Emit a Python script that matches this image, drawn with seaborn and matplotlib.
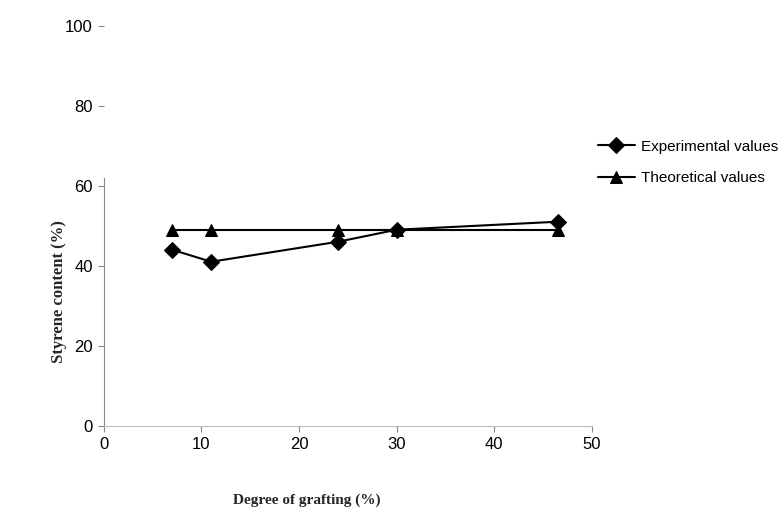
import pandas as pd
import seaborn as sns
import matplotlib.pyplot as plt

# data
grafting = [7, 11, 24, 30, 46.5]
experimental = [44, 41, 46, 49, 51]
theoretical = [49, 49, 49, 49, 49]

df = pd.DataFrame({
    'grafting': grafting * 2,
    'styrene': experimental + theoretical,
    'series': ['Experimental values'] * 5 + ['Theoretical values'] * 5,
})

sns.set_style('white')
plt.rcParams['font.family'] = ['Liberation Sans', 'DejaVu Sans']
plt.rcParams['text.color'] = 'black'
plt.rcParams['xtick.color'] = 'black'
plt.rcParams['ytick.color'] = 'black'

fig = plt.figure(figsize=(7.8, 5.13), dpi=100)
ax = fig.add_axes([0.133, 0.170, 0.626, 0.780])

sns.lineplot(data=df, x='grafting', y='styrene', hue='series', style='series',
             markers={'Experimental values': 'D', 'Theoretical values': '^'},
             dashes=False, palette=['black', 'black'], markersize=8,
             linewidth=1.5, markeredgecolor='black', ax=ax)

ax.set_xlim(0, 50)
ax.set_ylim(0, 100)
ax.set_xticks([0, 10, 20, 30, 40, 50])
ax.set_yticks([0, 20, 40, 60, 80, 100])
ax.tick_params(axis='both', labelsize=12, length=4, width=0.8, color='#888888',
               labelcolor='black', direction='out', left=True, bottom=True, pad=4)

for s in ['top', 'right']:
    ax.spines[s].set_visible(False)
ax.spines['left'].set_color('#888888')
ax.spines['left'].set_linewidth(0.8)
ax.spines['left'].set_bounds(0, 62)
ax.spines['bottom'].set_color('#bbbbbb')
ax.spines['bottom'].set_linewidth(0.8)

serif = {'family': ['Liberation Serif', 'DejaVu Serif'], 'weight': 'bold'}
ax.set_xlabel('Degree of grafting (%)', fontdict=serif, fontsize=11)
ax.set_ylabel('Styrene content (%)', fontdict=serif, fontsize=12)
ax.xaxis.set_label_coords(0.416, -0.17)
ax.yaxis.set_label_coords(-0.075, 0.335)

leg = ax.legend(loc='upper left', bbox_to_anchor=(1.0, 0.73), frameon=False,
                fontsize=11, handlelength=2.4, handletextpad=0.4,
                labelspacing=1.15, borderaxespad=0)

fig.savefig('out.png', dpi=100)
